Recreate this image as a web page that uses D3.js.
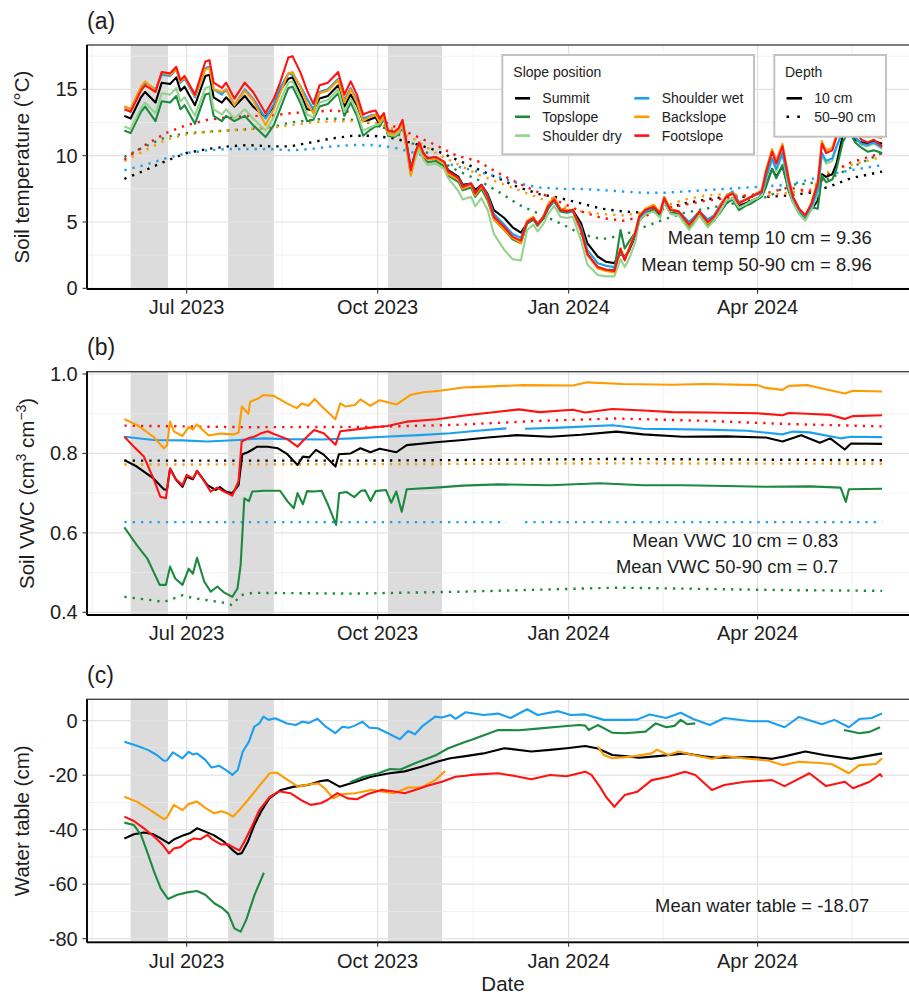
<!DOCTYPE html>
<html><head><meta charset="utf-8">
<script src="https://cdn.jsdelivr.net/npm/d3@7"></script>
<style>
body{margin:0;background:#fff}
svg{display:block}
text{font-family:"Liberation Sans",Arial,Helvetica,sans-serif;fill:#1e1e1e}
</style></head>
<body><svg id="c" width="909" height="994"></svg>
<script>
// ---------------- DATA ----------------
const slopeNames = ["Summit","Topslope","Shoulder dry","Shoulder wet","Backslope","Footslope"];
const slopeColors = ["#000000","#1b8a3f","#95d28d","#1b9ff0","#ff9a00","#ff1212"];
const depthNames = ["10 cm","50\u201390 cm"];
const xTickLabels = ["Jul 2023","Oct 2023","Jan 2024","Apr 2024"];
const xTickDates = ["2023-07-01","2023-10-01","2024-01-01","2024-04-01"];
const shadedPeriods = [["2023-06-04","2023-06-22"],["2023-07-21","2023-08-12"],["2023-10-06","2023-11-01"]];
const tempTicks = [0,5,10,15];
const vwcTicks = [0.4,0.6,0.8,1.0];
const wtTicks = [-80,-60,-40,-20,0];
const meanTemp10 = 9.36, meanTempDeep = 8.96, meanVwc10 = 0.83, meanVwcDeep = 0.7, meanWaterTable = -18.07;

// days since 2023-06-01
const tempDay = [0,3,8,10,15,18,22,25,27,29, 34,39,41,43,47,49,53,58,62,68, 72,75,79,81,85,88,91,94,98,103,
 106,109,112,115,118,121,123,125,127,130, 132,134,136,138,140,142,144,146,150,154, 156,161,163,167,169,172,175,178,183,187,
 191,194,197,199,202,204,207,210,213,216, 220,223,228,232,236,239,241,243,246,248, 251,255,258,260,263,267,272,274,277,281,
 284,287,290,293,296,299,302,305,307,309, 312,314,317,320,322,325,328,331,334,336, 338,341,343,346,349,352,355,358,361,365];
const t10Summit = [13.0,12.8,14.4,14.8,14.0,15.5,15.4,15.9,14.9,15.2, 13.8,16.0,16.1,14.4,14.0,14.4,13.7,14.5,13.7,12.9,
 13.7,14.9,15.8,15.9,14.6,13.5,13.4,14.3,14.5,15.3, 13.7,14.6,13.8,12.6,12.7,12.9,12.3,12.9,11.6,11.6,
 11.9,12.4,10.8,9.0,10.1,10.8,10.1,9.8,9.8,9.5, 8.9,8.4,7.8,7.9,7.4,7.8,7.1,5.9,5.3,4.6,
 4.2,4.9,5.2,4.9,5.3,6.0,6.6,6.0,5.9,5.9, 4.9,3.4,2.4,2.0,1.9,2.6,2.4,2.8,3.9,5.1,
 5.6,5.9,5.5,6.5,5.7,5.6,4.7,5.0,5.5,4.8, 5.1,5.8,6.5,6.8,6.2,6.4,6.6,6.8,7.0,7.8,
 9.0,8.4,9.2,7.5,6.6,5.7,5.2,6.0,6.6,8.6, 8.4,8.6,9.4,11.5,12.5,11.2,11.0,10.9,11.1,10.9];
const t10Topslope = [11.9,11.7,13.3,13.7,12.6,14.1,14.0,14.5,13.5,13.8, 12.4,14.6,14.7,13.0,12.6,13.0,12.6,13.0,12.3,11.4,
 12.3,13.5,15.1,15.2,13.9,12.6,12.7,13.7,13.9,14.7, 13.0,14.0,13.0,11.5,11.9,12.2,12.2,12.8,11.5,11.4,
 11.6,12.3,10.5,8.6,9.9,10.7,9.9,9.5,9.6,9.2, 8.5,8.0,7.4,7.6,6.9,7.5,6.6,5.2,4.4,3.7,
 3.4,4.9,5.2,4.7,5.3,6.0,6.6,5.8,5.7,5.8, 4.3,2.6,1.6,1.4,1.4,4.4,3.0,3.5,4.2,5.2,
 5.7,5.9,5.4,6.6,5.7,5.6,4.6,4.9,5.6,4.8, 5.2,5.7,6.4,6.7,5.9,6.2,6.4,6.7,6.9,7.6,
 9.0,8.3,9.3,7.3,6.5,5.7,5.2,6.1,6.0,8.5, 8.0,8.2,9.0,11.0,11.9,11.0,10.6,10.3,10.4,10.2];
const t10ShoulderDry = [12.2,12.0,13.6,14.0,13.2,14.7,14.6,15.1,14.1,14.4, 13.0,15.1,15.2,13.5,13.1,13.5,12.8,13.5,12.8,11.9,
 12.9,14.1,15.5,15.6,14.3,13.1,12.9,14.0,14.2,15.0, 13.3,14.3,13.3,11.9,12.1,12.3,12.4,12.9,11.6,11.5,
 11.7,12.3,10.5,8.5,9.7,10.5,9.7,9.3,9.4,9.0, 8.3,7.3,6.7,6.9,6.2,6.8,5.9,4.1,2.9,2.2,
 2.1,4.4,4.8,4.3,4.9,5.6,6.2,5.4,5.3,5.4, 3.6,1.8,1.0,0.9,0.9,2.2,1.6,2.2,3.4,5.1,
 5.6,5.8,5.3,6.5,5.6,5.5,4.4,4.8,5.5,4.6, 5.1,5.8,6.6,6.8,6.1,6.3,6.6,6.8,7.0,8.1,
 9.7,8.8,10.1,7.6,6.5,5.6,5.1,6.0,7.1,10.1, 9.4,9.6,10.6,11.8,12.4,11.4,10.8,10.7,10.9,10.5];
const t10ShoulderWet = [13.7,13.5,15.1,15.5,15.0,16.1,16.0,16.5,15.5,15.8, 14.4,16.6,16.7,15.0,14.6,15.0,13.8,15.0,14.3,12.8,
 13.9,15.1,16.2,16.1,15.2,14.3,13.5,14.8,15.0,15.8, 14.2,15.1,14.2,12.8,13.0,13.1,12.6,13.0,11.8,11.7,
 12.0,12.5,10.8,8.9,10.2,10.9,10.2,9.8,9.9,9.5, 8.8,8.3,7.7,7.9,7.2,7.8,7.0,5.6,4.8,4.1,
 3.8,5.0,5.3,4.9,5.4,6.1,6.6,5.9,5.8,5.8, 4.6,2.9,1.9,1.7,1.6,2.7,2.2,2.9,4.0,5.3,
 5.8,6.1,5.7,6.7,5.9,5.8,5.0,5.3,5.8,5.2, 5.5,6.3,7.0,7.3,6.5,6.7,6.9,7.1,7.2,8.3,
 9.8,9.0,10.2,8.0,6.8,5.9,5.4,6.2,7.4,10.2, 9.6,9.8,10.7,11.8,12.4,11.4,10.9,10.8,11.0,10.6];
const t10Backslope = [13.7,13.5,15.2,15.6,14.9,16.3,16.1,16.5,15.6,15.9, 14.5,16.5,16.6,15.0,14.8,15.0,13.8,14.9,14.2,12.3,
 13.5,14.7,16.2,16.3,15.1,13.9,13.2,14.7,14.9,15.7, 14.0,15.0,14.0,12.6,12.9,13.1,12.5,13.0,11.7,11.6,
 11.9,12.5,10.6,8.5,10.0,10.9,10.0,9.7,9.8,9.4, 8.6,8.2,7.5,7.8,7.0,7.7,6.8,5.2,4.4,3.8,
 3.4,5.1,5.4,4.8,5.5,6.3,6.9,6.0,5.9,5.9, 4.3,2.5,1.5,1.3,1.2,3.0,2.2,3.0,4.2,5.5,
 6.0,6.3,5.7,6.9,6.0,5.8,4.7,5.1,5.8,4.9, 5.4,6.2,7.0,7.2,6.4,6.7,6.9,7.2,7.4,8.9,
 10.5,9.6,10.9,8.3,6.9,6.0,5.5,6.5,8.1,11.1, 10.4,10.6,11.6,12.8,13.4,12.3,11.5,11.4,11.5,11.3];
const t10Footslope = [13.5,13.3,14.9,15.3,14.8,16.3,16.2,16.7,15.7,16.0, 14.6,17.1,17.2,15.5,15.1,15.5,14.3,15.5,14.8,13.2,
 14.3,15.5,17.4,17.5,16.2,14.9,13.9,15.3,15.5,16.3, 14.6,15.6,14.6,13.1,13.3,13.4,12.8,13.2,11.9,11.8,
 12.05,12.7,10.9,8.9,10.2,11.0,10.2,9.8,9.9,9.55, 8.8,8.3,7.65,7.9,7.15,7.8,6.9,5.4,4.6,3.9,
 3.6,5.0,5.3,4.8,5.4,6.15,6.7,5.9,5.8,5.9, 4.4,2.6,1.6,1.4,1.3,3.0,2.1,2.9,4.1,5.4,
 5.9,6.15,5.65,6.8,5.9,5.8,4.8,5.15,5.8,5.0, 5.4,6.15,6.9,7.15,6.4,6.65,6.9,7.15,7.3,8.7,
 10.3,9.4,10.7,8.2,6.9,6.0,5.5,6.4,7.9,10.9, 10.2,10.4,11.4,12.6,13.2,12.0,11.2,11.0,11.2,10.7];

const deepDay = [0,10,20,30,40,50,60,70,80,90, 100,110,120,130,140,150,160,170,180,190, 200,210,220,230,240,250,260,270,280,290, 300,310,320,330,340,350,365];
const tDeepSummit = [8.25,8.9,9.6,10.2,10.5,10.7,10.8,10.7,10.7,11.0, 11.3,11.5,11.5,11.3,10.9,10.4,9.7,9.0,8.3,7.6, 7.1,6.8,6.4,6.0,5.8,5.7,6.0,6.4,6.7,6.9, 6.9,6.9,7.0,7.2,7.7,8.3,8.8];
const tDeepTopslope = [9.9,10.7,11.4,11.7,11.8,11.9,12.0,12.1,12.5,12.7, 12.8,12.7,12.4,11.8,10.8,9.8,8.9,8.2,7.3,6.3, 5.6,4.9,4.1,3.7,4.0,4.6,5.2,5.7,6.0,6.3, 6.6,6.9,7.8,7.9,8.3,9.1,10.2];
const tDeepShoulderWet = [8.9,9.3,9.8,10.2,10.4,10.5,10.5,10.5,10.4,10.5, 10.7,10.8,10.8,10.6,10.2,9.7,9.2,8.8,8.4,7.9, 7.6,7.5,7.5,7.4,7.3,7.2,7.2,7.3,7.4,7.5, 7.6,7.7,7.8,8.2,8.6,8.9,9.3];
const tDeepBackslope = [9.6,10.4,11.2,11.6,11.8,11.9,12.0,12.1,12.3,12.5, 12.6,12.6,12.5,12.0,11.2,10.2,9.4,8.6,8.0,7.4, 6.8,6.2,5.8,5.6,5.5,5.7,6.2,6.7,7.0,7.1, 7.0,7.0,7.2,7.4,8.9,9.3,9.9];
const tDeepFootslope = [9.7,10.8,11.7,12.3,12.7,12.9,13.0,13.0,13.2,13.3, 13.4,13.3,13.0,12.2,11.5,10.8,10.0,9.6,8.7,7.9, 7.2,6.5,5.8,5.3,5.1,5.4,6.0,6.3,6.6,6.8, 7.0,7.2,7.6,7.3,8.7,9.5,10.2];

// VWC: [day since 2023-06-01, value]
const vwc10Summit = [[0,0.783],[6,0.767],[14,0.737],[19,0.71],[20.5,0.708],[22,0.762],[25,0.733],[28,0.716],[30,0.741],[33,0.735],[35,0.756],[40,0.72],[44,0.708],[46,0.715],[48.5,0.705],[52,0.70],[55,0.72],[56.8,0.798],[59.5,0.803],[64,0.817],[69,0.817],[74,0.813],[78.5,0.798],[83.4,0.771],[86,0.792],[89,0.79],[92.3,0.809],[96,0.797],[101.7,0.767],[103.3,0.798],[109,0.80],[113.7,0.813],[118.5,0.803],[123,0.812],[131,0.803],[136,0.821],[150,0.828],[163,0.834],[175,0.84],[189,0.846],[205,0.842],[220,0.847],[237,0.855],[250,0.848],[269,0.842],[290,0.843],[309,0.84],[317,0.83],[326,0.846],[335,0.827],[340,0.838],[347,0.81],[350,0.825],[365,0.824]];
const vwc10Topslope = [[0,0.614],[6,0.569],[11,0.536],[17,0.469],[20,0.469],[22,0.515],[24.5,0.485],[28,0.469],[31,0.51],[33,0.497],[35,0.537],[38.5,0.477],[41.6,0.452],[44.8,0.465],[48,0.45],[52,0.439],[54.5,0.46],[56,0.519],[57.8,0.687],[60,0.68],[61.6,0.704],[67,0.706],[75,0.706],[78.5,0.68],[81.6,0.662],[83.4,0.70],[86,0.672],[88,0.705],[91.4,0.704],[95,0.706],[98,0.672],[102,0.62],[103.5,0.70],[107,0.703],[110.7,0.69],[114,0.706],[116,0.707],[118.6,0.68],[121,0.705],[126,0.708],[128.5,0.676],[131,0.704],[133.6,0.653],[136,0.71],[150,0.714],[163,0.719],[180,0.722],[205,0.72],[229,0.725],[250,0.72],[269,0.72],[290,0.718],[309,0.716],[330,0.717],[345,0.714],[347.5,0.678],[349,0.71],[365,0.711]];
const vwc10ShoulderWet = [[0,0.842],[14,0.834],[28,0.833],[40,0.830],[55,0.834],[67,0.838],[78,0.836],[95,0.835],[110,0.838],[125,0.842],[142,0.846],[157,0.851],[170,0.857],[184,0.863],[184.5,null],[193,0.862],[210,0.865],[235,0.871],[250,0.862],[280,0.86],[300,0.857],[317,0.848],[322,0.855],[330,0.853],[345,0.838],[350,0.842],[365,0.841]];
const vwc10Backslope = [[0,0.886],[6,0.872],[14,0.842],[19,0.813],[20.5,0.82],[22,0.88],[24,0.855],[28,0.844],[31,0.867],[33,0.86],[35,0.873],[40.6,0.845],[46,0.85],[52.6,0.848],[55,0.852],[56.6,0.918],[59.7,0.90],[60.6,0.93],[64.7,0.939],[67,0.947],[72,0.945],[78.3,0.926],[83,0.914],[85.5,0.926],[88.7,0.92],[91.7,0.937],[94.4,0.922],[101.6,0.886],[104,0.926],[106.5,0.918],[111,0.922],[113.7,0.936],[118.5,0.92],[123,0.934],[131,0.923],[137.7,0.947],[144,0.954],[152,0.958],[163,0.966],[168,0.967],[192,0.972],[216,0.971],[223,0.979],[240,0.975],[264,0.973],[280,0.975],[305,0.972],[309,0.965],[317,0.96],[320,0.97],[329,0.972],[335,0.965],[347,0.951],[351,0.958],[365,0.956]];
const vwc10Footslope = [[0,0.842],[4.6,0.817],[9.4,0.792],[14,0.737],[17.3,0.691],[20,0.687],[22,0.762],[24.5,0.737],[28,0.72],[30,0.746],[33,0.737],[35,0.756],[38.5,0.73],[41.5,0.704],[44.7,0.714],[48,0.704],[52,0.694],[55,0.73],[56.5,0.83],[59.5,0.838],[62.5,0.842],[66,0.851],[69,0.856],[72,0.849],[78.5,0.836],[83.4,0.817],[86.6,0.835],[91.4,0.859],[96,0.851],[101.7,0.822],[104,0.856],[110.6,0.86],[118.6,0.865],[126.7,0.869],[136,0.88],[150.5,0.886],[163,0.895],[168,0.898],[180,0.905],[190,0.911],[200,0.904],[216,0.91],[222,0.903],[235,0.912],[250,0.908],[264,0.904],[280,0.903],[305,0.901],[317,0.896],[320,0.902],[329,0.9],[340,0.897],[347,0.887],[351,0.894],[365,0.896]];
const vwcDeepSummit = [[0,0.782],[120,0.782],[237,0.786],[365,0.783]];
const vwcDeepTopslope = [[0,0.439],[14,0.43],[19,0.426],[28,0.443],[33,0.436],[38,0.432],[48,0.424],[52,0.418],[56,0.443],[62,0.449],[110,0.447],[163,0.452],[237,0.462],[317,0.456],[365,0.454]];
const vwcDeepShoulderWet = [[0,0.627],[184,0.627],[184.5,null],[193,0.627],[365,0.627]];
const vwcDeepBackslope = [[0,0.772],[120,0.773],[237,0.775],[365,0.774]];
const vwcDeepFootslope = [[0,0.870],[60,0.866],[120,0.867],[160,0.872],[200,0.882],[237,0.888],[280,0.882],[320,0.874],[365,0.868]];

// Water table (cm): [day since 2023-06-01, value]
const wtSummit = [[0,-43.2],[4.6,-41.7],[9.4,-41.0],[14,-41.7],[17.5,-43.2],[21.4,-45.0],[23.8,-43.6],[28.6,-42.0],[31.8,-41.2],[35,-39.5],[39,-40.7],[43,-42.0],[48,-44.4],[52,-47.4],[54.6,-49.0],[56.5,-48.6],[59.5,-44.4],[62.6,-38.3],[65.8,-33.4],[69.8,-28.5],[75.4,-25.4],[81.8,-24.2],[88.3,-23.6],[94.7,-22.1],[98,-21.8],[103.6,-24.2],[110.8,-22.6],[118.8,-20.6],[127,-19.4],[135,-18.6],[143,-16.9],[151,-15.0],[157,-13.8],[164.4,-13.0],[173,-12.0],[183,-10.1],[196,-11.3],[205,-10.7],[213,-10.1],[222,-9.3],[228,-10.2],[235,-12.6],[241,-13.0],[248,-13.6],[257,-13.0],[270,-12.0],[279,-13.1],[286,-13.6],[302,-13.3],[312,-14.0],[318,-13.1],[328,-11.3],[337,-12.6],[350,-14.0],[365,-12.0]];
const wtTopslope = [[0,-37.4],[4.6,-38.3],[8,-41.9],[11,-48.1],[14.3,-55.4],[17.5,-61.5],[21,-65.4],[25.5,-63.9],[30.3,-63.0],[35,-62.5],[39,-63.9],[43.3,-67.0],[47.3,-68.8],[50,-70.7],[53,-76.2],[56,-77.4],[58.7,-73.1],[62.7,-63.9],[67.2,-55.8],[67.5,null],[108.8,-22.6],[115.2,-20.6],[122,-19.4],[128,-17.7],[133,-17.9],[140,-15.6],[149.7,-12.8],[156,-10.1],[164.4,-7.7],[167,-7.1],[180,-3.4],[190,-3.5],[199,-2.9],[209,-2.2],[219,-1.6],[222,-1.8],[223.6,-3.4],[228,-1.6],[235,-4.4],[241,-4.6],[251,-4.0],[256,-1.0],[261,-2.4],[265,-1.9],[268,0.3],[271,-1.3],[275,-1.0],[276,null],[346.6,-3.4],[354,-4.6],[359,-4.1],[364,-2.4]];
const wtShoulderWet = [[0,-7.7],[6,-9.2],[11.6,-10.8],[15.6,-12.6],[19,-14.7],[20.5,-14.6],[23.4,-11.6],[28,-13.8],[31,-11.4],[33,-12.4],[35,-12.0],[39,-14.4],[42,-17.2],[45.6,-16.5],[49.7,-18.5],[52,-19.9],[54.6,-18.1],[57,-11.4],[60,-7.7],[62.6,-2.2],[65,-1.0],[67,1.5],[69.5,0.3],[72.7,0.9],[78.3,-1.0],[82.5,-1.6],[85.7,-0.4],[89,-0.8],[93,0.7],[97,-2.2],[101.6,-4.6],[105,-2.2],[108,-2.6],[110.7,-1.9],[114.7,-0.4],[118,-2.6],[122,-2.8],[127,-4.6],[132.7,-6.8],[136.7,-3.8],[140,-5.0],[143.3,-2.2],[149.7,1.5],[153,1.2],[157,2.1],[159.5,0.7],[164.4,3.1],[173,2.1],[180,2.6],[186,1.0],[194,4.2],[199,2.1],[209,3.5],[215,2.1],[222,2.3],[231,0.3],[241,0.3],[247,0.4],[253,2.3],[261,1.0],[268,2.9],[274,0.6],[282,-1.6],[289,1.0],[302,-0.2],[310,-0.2],[318,-2.4],[325,1.4],[336,-1.3],[342,0.3],[349,-2.4],[354,0.6],[360,1.0],[365,2.7]];
const wtBackslope = [[0,-27.9],[6,-29.7],[12.5,-32.8],[19,-36.1],[20.5,-35.5],[23.8,-30.9],[28,-32.8],[31,-30.6],[35,-29.7],[39,-32.0],[43.3,-34.0],[46.5,-33.2],[49.7,-34.0],[52.4,-35.2],[55.4,-32.8],[59.5,-29.1],[62.7,-26.1],[66,-23.0],[70,-19.3],[73.3,-19.0],[78.8,-21.8],[83.7,-24.2],[88.5,-23.4],[93.4,-23.0],[96.5,-24.8],[100.6,-28.5],[104.6,-27.0],[111,-26.6],[119,-25.4],[123.8,-26.0],[130,-26.6],[136.7,-24.5],[143,-24.5],[149.7,-21.8],[154.5,-18.5],[155,null],[228,-9.5],[231,-12.6],[235,-13.8],[244,-13.2],[254,-12.0],[256.5,-10.6],[262,-12.6],[267,-11.3],[273,-12.4],[283,-14.0],[289,-12.9],[296,-13.6],[310,-14.6],[317,-16.3],[325,-15.1],[335,-15.5],[341,-16.0],[349,-19.3],[354,-16.3],[362,-15.9],[365,-13.8]];
const wtFootslope = [[0,-35.2],[4.6,-36.8],[9.4,-39.5],[14.3,-42.5],[18.3,-45.4],[21.5,-48.7],[23.8,-46.9],[27,-46.4],[30.3,-44.4],[33.5,-43.2],[36.7,-43.5],[40,-41.9],[42.4,-43.6],[46.5,-45.4],[50,-45.4],[53,-46.7],[55.4,-47.6],[57.8,-44.4],[61,-39.5],[65,-32.8],[70,-28.0],[74.5,-25.9],[80,-26.6],[85,-29.1],[89.7,-30.9],[94.6,-30.3],[97.8,-29.1],[102.6,-26.6],[107.5,-28.5],[112,-28.8],[117,-27.0],[123.7,-25.4],[130,-26.0],[135,-26.6],[140,-25.4],[146,-23.9],[153,-22.4],[159.5,-20.6],[164.4,-20.2],[167,-19.9],[180,-19.3],[188,-20.3],[196,-21.5],[205,-19.9],[213,-20.4],[222,-18.7],[225,-19.9],[229,-24.2],[232,-27.9],[236,-31.6],[241,-27.3],[247,-26.1],[254,-21.8],[262,-20.6],[270,-18.7],[275,-19.9],[283,-25.4],[289,-23.6],[299,-22.4],[312,-21.8],[318,-24.0],[330,-19.3],[338,-24.0],[347,-22.4],[351,-24.8],[359,-22.4],[364,-19.6],[365,-20.6]];

// ---------------- BUILD SERIES ----------------
const zip = (days, vals) => days.map((d,i)=>[d, vals[i]]);
const temp10 = [t10Summit,t10Topslope,t10ShoulderDry,t10ShoulderWet,t10Backslope,t10Footslope].map(v=>zip(tempDay,v));
const tempDeepIdx = [0,1,3,4,5];
const tempDeep = [tDeepSummit,tDeepTopslope,tDeepShoulderWet,tDeepBackslope,tDeepFootslope].map(v=>zip(deepDay,v));
const vwc10 = [vwc10Summit,vwc10Topslope,vwc10ShoulderWet,vwc10Backslope,vwc10Footslope];
const vwcDeep = [vwcDeepSummit,vwcDeepTopslope,vwcDeepShoulderWet,vwcDeepBackslope,vwcDeepFootslope];
const wt = [wtSummit,wtTopslope,wtShoulderWet,wtBackslope,wtFootslope];

// ---------------- DRAW ----------------
const svg = d3.select("#c");
svg.append("rect").attr("width",909).attr("height",994).attr("fill","#fff");
const defs = svg.append("defs");
const DAY0 = Date.UTC(2023,5,1);
const toDate = d => new Date(DAY0 + d*86400000);
const pd = s => new Date(s + "T00:00:00Z");
const x = d3.scaleUtc().domain([pd("2023-05-14"), pd("2024-06-18")]).range([87, 919.5]);
const L = 87, R = 919.5;
const quarterly = ["2023-04-01","2023-07-01","2023-10-01","2024-01-01","2024-04-01","2024-07-01"].map(pd);
const xMinor = d3.pairs(quarterly).map(([a,b]) => new Date((+a + +b)/2)).filter(d => d >= x.domain()[0] && d <= x.domain()[1]);

function drawPanel(p){
  const y = d3.scaleLinear().domain(p.domain).range([p.bottom, p.top]);
  const g = svg.append("g");
  const cid = "clip-" + p.key;
  defs.append("clipPath").attr("id", cid).append("rect")
    .attr("x", L).attr("y", p.top).attr("width", R-L).attr("height", p.bottom-p.top);
  // shaded periods
  g.append("g").selectAll("rect").data(shadedPeriods).join("rect")
    .attr("x", d=>x(pd(d[0]))).attr("width", d=>x(pd(d[1]))-x(pd(d[0])))
    .attr("y", p.top).attr("height", p.bottom-p.top).attr("fill","#dcdcdc");
  // minor grid
  const gm = g.append("g").attr("stroke","#ececec").attr("stroke-width",0.7);
  p.minor.forEach(v => gm.append("line").attr("x1",L).attr("x2",R).attr("y1",y(v)).attr("y2",y(v)));
  xMinor.forEach(d => gm.append("line").attr("x1",x(d)).attr("x2",x(d)).attr("y1",p.top).attr("y2",p.bottom));
  // major grid
  const gM = g.append("g").attr("stroke","#e2e2e2").attr("stroke-width",1.2);
  p.ticks.forEach(v => gM.append("line").attr("x1",L).attr("x2",R).attr("y1",y(v)).attr("y2",y(v)));
  xTickDates.forEach(s => gM.append("line").attr("x1",x(pd(s))).attr("x2",x(pd(s))).attr("y1",p.top).attr("y2",p.bottom));
  // lines
  const line = d3.line().defined(d => d[1] != null).x(d => x(toDate(d[0]))).y(d => y(d[1]));
  const lg = g.append("g").attr("clip-path", `url(#${cid})`).attr("fill","none");
  (p.dotted||[]).forEach(s => lg.append("path").attr("d", line(s.data)).attr("stroke", s.color)
      .attr("stroke-width",2.4).attr("stroke-dasharray","2.3 6").attr("stroke-linecap","butt"));
  p.solid.forEach(s => lg.append("path").attr("d", line(s.data)).attr("stroke", s.color)
      .attr("stroke-width",2.1).attr("stroke-linejoin","round"));
  // border and axes
  g.append("rect").attr("x",L).attr("y",p.top).attr("width",R-L).attr("height",p.bottom-p.top)
    .attr("fill","none").attr("stroke","#3a3a3a").attr("stroke-width",1.3);
  g.append("line").attr("x1",L).attr("x2",R).attr("y1",p.bottom).attr("y2",p.bottom).attr("stroke","#000").attr("stroke-width",1.8);
  g.append("line").attr("x1",L).attr("x2",L).attr("y1",p.top).attr("y2",p.bottom).attr("stroke","#000").attr("stroke-width",1.8);
  // y ticks
  p.ticks.forEach((v,i) => {
    g.append("line").attr("x1",L-4.5).attr("x2",L).attr("y1",y(v)).attr("y2",y(v)).attr("stroke","#333").attr("stroke-width",1.1);
    g.append("text").attr("x",77.7).attr("y",y(v)).attr("dy","0.35em").attr("text-anchor","end")
      .attr("font-size",20).text(p.tickLabels[i]);
  });
  // x ticks
  xTickDates.forEach((s,i) => {
    const xx = x(pd(s));
    g.append("line").attr("x1",xx).attr("x2",xx).attr("y1",p.bottom).attr("y2",p.bottom+4.5).attr("stroke","#333").attr("stroke-width",1.1);
    g.append("text").attr("x",xx).attr("y",p.bottom+25.3).attr("text-anchor","middle").attr("font-size",20).text(xTickLabels[i]);
  });
  // panel tag
  g.append("text").attr("x",87).attr("y",p.tagY).attr("font-size",23).text(p.tag);
  // annotations
  p.notes.forEach(n => g.append("text").attr("x",n[0]).attr("y",n[1]).attr("text-anchor","end").attr("font-size",18.4).text(n[2]));
  return g;
}

// Panel (a)
drawPanel({key:"a", top:45, bottom:289, domain:[-0.05,18.34], ticks:tempTicks, tickLabels:tempTicks.map(String),
  minor:[2.5,7.5,12.5,17.5], tag:"(a)", tagY:28.5,
  dotted: tempDeep.map((d,i)=>({data:d, color:slopeColors[tempDeepIdx[i]]})),
  solid: temp10.map((d,i)=>({data:d, color:slopeColors[i]})),
  notes:[[871.7,243.5,`Mean temp 10 cm = ${meanTemp10}`],[871.7,270.5,`Mean temp 50-90 cm = ${meanTempDeep}`]]});

// Panel (b)
drawPanel({key:"b", top:371.7, bottom:615, domain:[0.3932,1.0058], ticks:vwcTicks, tickLabels:vwcTicks.map(v=>v.toFixed(1)),
  minor:[0.5,0.7,0.9], tag:"(b)", tagY:354.5,
  dotted: vwcDeep.map((d,i)=>({data:d, color:slopeColors[tempDeepIdx[i]]})),
  solid: vwc10.map((d,i)=>({data:d, color:slopeColors[tempDeepIdx[i]]})),
  notes:[[838.3,546.5,`Mean VWC 10 cm = ${meanVwc10}`],[838.3,573,`Mean VWC 50-90 cm = ${meanVwcDeep}`]]});

// Panel (c)
drawPanel({key:"c", top:699.3, bottom:942.3, domain:[-81.32,7.85], ticks:wtTicks, tickLabels:wtTicks.map(String),
  minor:[-70,-50,-30,-10], tag:"(c)", tagY:682.5,
  dotted: [],
  solid: wt.map((d,i)=>({data:d, color:slopeColors[tempDeepIdx[i]]})),
  notes:[[869.3,912,`Mean water table = ${meanWaterTable}`]]});

// Axis titles
svg.append("text").attr("transform","translate(29,167) rotate(-90)").attr("text-anchor","middle").attr("font-size",20.5).text("Soil temperature (\u00B0C)");
const vt = svg.append("text").attr("transform","translate(33.5,493.4) rotate(-90)").attr("text-anchor","middle").attr("font-size",20.5);
vt.append("tspan").text("Soil VWC (cm");
vt.append("tspan").attr("dy",-8).attr("font-size",14).text("3");
vt.append("tspan").attr("dy",8).text(" cm");
vt.append("tspan").attr("dy",-8).attr("font-size",14).text("\u22123");
vt.append("tspan").attr("dy",8).text(")");
svg.append("text").attr("transform","translate(29,820.8) rotate(-90)").attr("text-anchor","middle").attr("font-size",20.5).text("Water table (cm)");
svg.append("text").attr("x",503).attr("y",991).attr("text-anchor","middle").attr("font-size",20.5).text("Date");

// Legends
const lgd = svg.append("g");
lgd.append("rect").attr("x",502.3).attr("y",55).attr("width",251.7).attr("height",99.3).attr("fill","#fff").attr("stroke","#c2c2c2").attr("stroke-width",2);
lgd.append("text").attr("x",513.3).attr("y",76.5).attr("font-size",14).text("Slope position");
const rowsKeyY = [98.3,116.8,135.6];
slopeNames.forEach((nm,i) => {
  const col = Math.floor(i/3), row = i%3;
  const kx = col ? 634.3 : 515, tx = col ? 661.7 : 542.3;
  lgd.append("line").attr("x1",kx).attr("x2",kx+15).attr("y1",rowsKeyY[row]).attr("y2",rowsKeyY[row]).attr("stroke",slopeColors[i]).attr("stroke-width",2.6);
  lgd.append("text").attr("x",tx).attr("y",rowsKeyY[row]+4.9).attr("font-size",14).text(nm);
});
lgd.append("rect").attr("x",774.3).attr("y",55).attr("width",111.7).attr("height",81.7).attr("fill","#fff").attr("stroke","#c2c2c2").attr("stroke-width",2);
lgd.append("text").attr("x",785).attr("y",76.5).attr("font-size",14).text("Depth");
depthNames.forEach((nm,i) => {
  const ky = rowsKeyY[i];
  const ln = lgd.append("line").attr("x1",786.5).attr("x2",802).attr("y1",ky).attr("y2",ky).attr("stroke","#000").attr("stroke-width",2.6);
  if (i===1) ln.attr("stroke-dasharray","2.6 8.2");
  lgd.append("text").attr("x",814.3).attr("y",ky+4.9).attr("font-size",14).text(nm);
});
</script></body></html>
